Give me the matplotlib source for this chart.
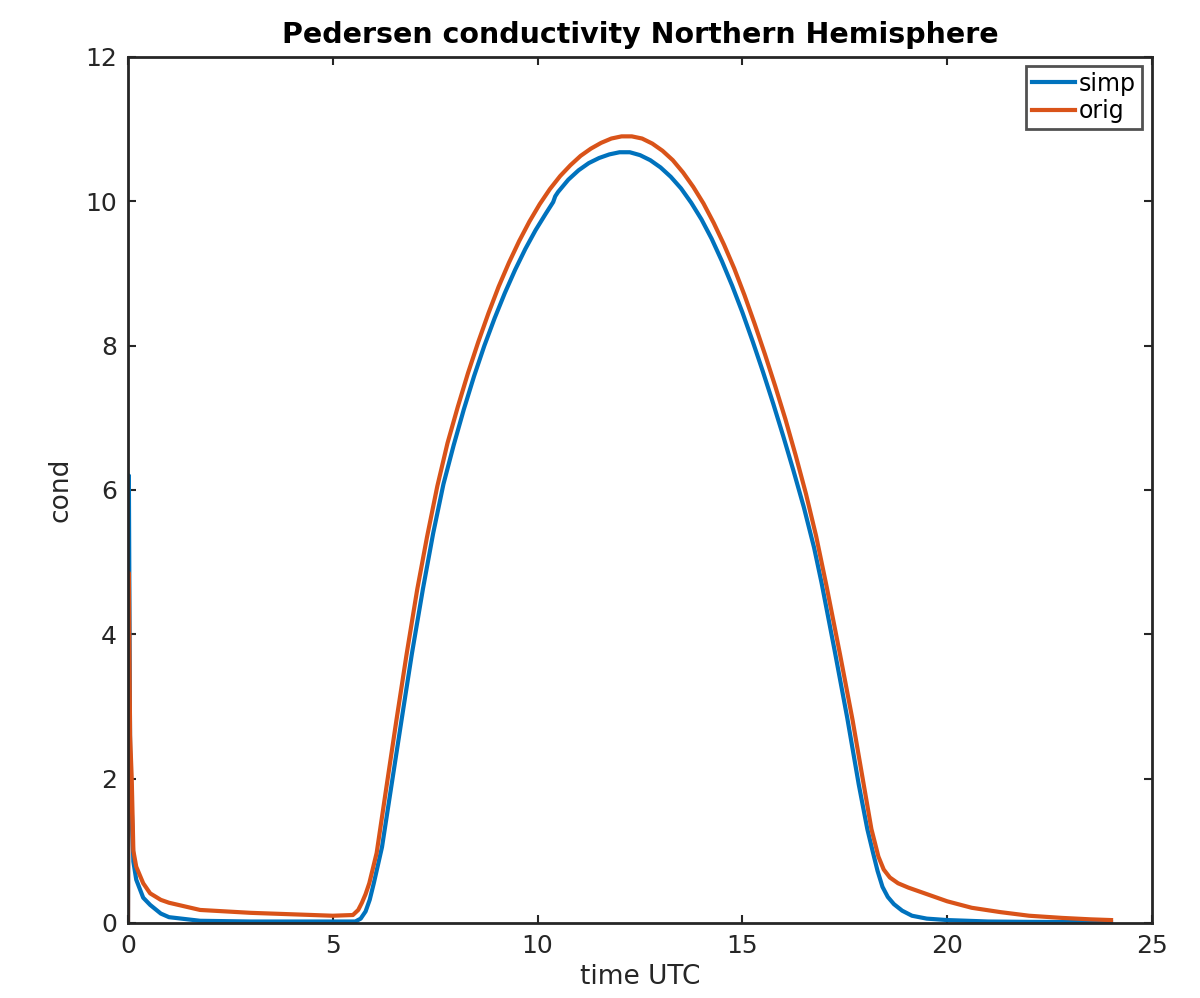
import numpy as np
import matplotlib
matplotlib.use('Agg')
import matplotlib.pyplot as plt

# data (time in hours UTC, conductivity)
t_orig = [0, 0.02, 0.05, 0.09, 0.13, 0.2, 0.37, 0.54, 0.8, 1.0, 1.76, 3, 4, 5,
          5.49, 5.62, 5.71, 5.8, 5.89, 6.07, 6.3, 6.55, 6.8, 7.06, 7.3, 7.55,
          7.8, 8.05, 8.3, 8.55, 8.8, 9.05, 9.3, 9.55, 9.8, 10.05, 10.3, 10.55,
          10.8, 11.05, 11.3, 11.55, 11.8, 12.05, 12.3, 12.55, 12.8, 13.05, 13.3,
          13.55, 13.8, 14.05, 14.3, 14.55, 14.8, 15.05, 15.3, 15.55, 15.8, 16.05,
          16.3, 16.55, 16.8, 17.06, 17.38, 17.69, 17.97, 18.15, 18.32, 18.45,
          18.6, 18.8, 19.05, 19.3, 19.6, 20.0, 20.6, 21.3, 22.0, 22.8, 23.5, 24.0]
v_orig = [0, 4.85, 2.6, 2.0, 1.0, 0.78, 0.55, 0.41, 0.32, 0.28, 0.18, 0.14, 0.12, 0.1,
          0.11, 0.18, 0.28, 0.4, 0.55, 0.97, 1.85, 2.8, 3.72, 4.62, 5.35, 6.05,
          6.65, 7.15, 7.62, 8.05, 8.45, 8.82, 9.15, 9.45, 9.72, 9.96, 10.17, 10.35,
          10.5, 10.63, 10.73, 10.81, 10.87, 10.9, 10.9, 10.87, 10.8, 10.7, 10.57,
          10.4, 10.2, 9.97, 9.7, 9.4, 9.07, 8.7, 8.3, 7.88, 7.44, 6.98,
          6.48, 5.95, 5.36, 4.65, 3.73, 2.81, 1.89, 1.3, 0.92, 0.74,
          0.63, 0.55, 0.49, 0.44, 0.38, 0.3, 0.21, 0.15, 0.1, 0.07, 0.05, 0.04]

t_simp = [0, 0.02, 0.05, 0.09, 0.13, 0.2, 0.37, 0.54, 0.8, 1.0, 1.76, 3, 4, 5,
          5.55, 5.68, 5.8, 5.9, 6.0, 6.1, 6.2, 6.43, 6.68, 6.93, 7.2, 7.45,
          7.7, 7.95, 8.2, 8.45, 8.7, 8.95, 9.2, 9.45, 9.7, 9.95, 10.2, 10.38,
          10.43, 10.5, 10.75, 11.0, 11.25, 11.5, 11.75, 12.0, 12.25, 12.5, 12.75,
          13.0, 13.25, 13.5, 13.75, 14.0, 14.25, 14.5, 14.75, 15.0, 15.25, 15.5,
          15.75, 16.0, 16.25, 16.5, 16.75, 16.93, 17.25, 17.56, 17.84, 18.05,
          18.19, 18.3, 18.42, 18.55, 18.7, 18.9, 19.14, 19.5, 20.0, 21.0, 22.0, 24.0]
v_simp = [0, 6.2, 2.4, 1.6, 0.85, 0.6, 0.35, 0.25, 0.13, 0.08, 0.03, 0.02, 0.02, 0.02,
          0.02, 0.06, 0.16, 0.32, 0.55, 0.8, 1.05, 1.9, 2.82, 3.73, 4.63, 5.4,
          6.08, 6.62, 7.12, 7.58, 8.0, 8.38, 8.73, 9.05, 9.34, 9.6, 9.83, 9.99,
          10.07, 10.13, 10.3, 10.43, 10.53, 10.6, 10.65, 10.68, 10.68, 10.64, 10.57,
          10.47, 10.34, 10.18, 9.98, 9.75, 9.48, 9.17, 8.83, 8.46, 8.06, 7.64,
          7.2, 6.74, 6.26, 5.76, 5.2, 4.72, 3.78, 2.84, 1.92, 1.3,
          0.97, 0.72, 0.5, 0.36, 0.26, 0.17, 0.1, 0.06, 0.04, 0.02, 0.015, 0.01]

c_simp = '#0072BD'
c_orig = '#D95319'
dark = '#262626'

fig = plt.figure(figsize=(12, 9.98), dpi=100)
ax = fig.add_axes([0.1067, 0.0752, 0.8533, 0.8677])

ax.plot(t_simp, v_simp, color=c_simp, lw=3, label='simp')
ax.plot(t_orig, v_orig, color=c_orig, lw=3, label='orig')

ax.set_xlim(0, 25)
ax.set_ylim(0, 12)
ax.set_xticks([0, 5, 10, 15, 20, 25])
ax.set_yticks([0, 2, 4, 6, 8, 10, 12])
ax.tick_params(direction='in', length=6, width=1.5, top=True, right=True,
               labelsize=18, colors=dark, pad=8)
for s in ax.spines.values():
    s.set_linewidth(2)
    s.set_color(dark)

ax.set_xlabel('time UTC', fontsize=19, color=dark, labelpad=4)
ax.set_ylabel('cond', fontsize=19, color=dark, labelpad=8)
ax.set_title('Pedersen conductivity Northern Hemisphere', fontsize=20.5,
             fontweight='bold', pad=10)

leg = ax.legend(loc='upper right', fontsize=17, handlelength=1.85, handletextpad=0.15,
                borderpad=0.25, labelspacing=0.15, fancybox=False,
                bbox_to_anchor=(0.99, 0.99), borderaxespad=0)
leg.get_frame().set_edgecolor(dark)
leg.get_frame().set_linewidth(2)
for line in leg.get_lines():
    line.set_linewidth(3)

fig.savefig('out.png', dpi=100)
